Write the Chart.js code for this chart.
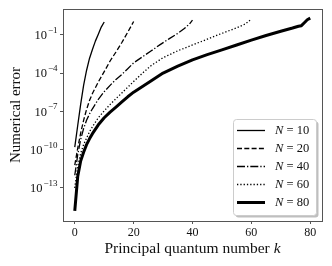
<!DOCTYPE html>
<html>
<head>
<meta charset="utf-8">
<script src="https://cdn.jsdelivr.net/npm/chart.js@4.4.1/dist/chart.umd.min.js"></script>
<style>
  html, body { margin: 0; padding: 0; background: #fff; }
  #wrap { width: 332px; height: 266px; }
</style>
</head>
<body>
<div id="wrap"><canvas id="chart" width="332" height="266"></canvas></div>
<script>
// k values and numerical error, one pair of arrays per basis size N
const kN10 = [0, 1, 2, 3, 4, 5, 6, 7, 8, 9, 10];
const errN10 = [1.6e-10, 7.9e-9, 3.5e-7, 1.1e-5, 1.6e-4, 1.4e-3, 7.1e-3, 3.2e-2, 1.1e-1, 4.0e-1, 1.0];

const kN20 = [0, 1, 2, 3, 4, 5, 6, 7, 8, 10, 12, 14, 16, 18, 19, 20];
const errN20 = [6.3e-12, 1.3e-10, 2.0e-9, 2.0e-8, 1.4e-7, 7.1e-7, 2.5e-6, 7.1e-6, 2.0e-5, 1.3e-4, 8.9e-4,
  4.5e-3, 2.5e-2, 1.6e-1, 4.2e-1, 1.1];

const kN40 = [0, 1, 2, 3, 4, 5, 6, 8, 10, 12, 14, 16, 18, 20, 23, 26, 29, 32, 35, 37, 39, 40];
const errN40 = [1.0e-12, 4.0e-11, 6.3e-10, 4.5e-9, 2.0e-8, 6.3e-8, 1.6e-7, 8.9e-7, 3.5e-6, 1.1e-5, 3.2e-5,
  7.9e-5, 2.2e-4, 6.3e-4, 1.9e-3, 5.6e-3, 1.7e-2, 4.8e-2, 1.3e-1, 2.8e-1, 7.1e-1, 1.4];

const kN60 = [0, 1, 2, 3, 4, 5, 6, 8, 10, 12, 14, 16, 18, 20, 23, 26, 30, 35, 40, 45, 50, 55, 58, 60];
const errN60 = [1.0e-13, 5.0e-12, 5.0e-11, 2.5e-10, 7.9e-10, 2.5e-9, 6.3e-9, 3.2e-8, 1.1e-7, 3.5e-7, 1.0e-6,
  2.8e-6, 7.9e-6, 2.2e-5, 1.0e-4, 4.0e-4, 1.6e-3, 5.6e-3, 1.6e-2, 4.5e-2, 1.3e-1, 3.5e-1, 7.1e-1, 1.7];

const kN80 = [0, 1, 2, 3, 4, 5, 6, 8, 10, 12, 14, 16, 18, 20, 23, 26, 30, 35, 40, 45, 50, 55, 60, 65, 70,
  74, 76, 77, 78, 79, 80];
const errN80 = [1.6e-15, 7.9e-13, 1.3e-11, 6.3e-11, 2.5e-10, 7.1e-10, 1.8e-9, 8.9e-9, 3.2e-8, 8.9e-8, 2.2e-7,
  5.6e-7, 1.4e-6, 3.2e-6, 8.9e-6, 2.5e-5, 1.0e-4, 3.5e-4, 1.1e-3, 2.8e-3, 6.6e-3, 1.6e-2, 3.8e-2, 8.9e-2,
  1.9e-1, 3.4e-1, 4.7e-1, 5.2e-1, 8.9e-1, 1.5, 2.0];

const seriesNames = ['N = 10', 'N = 20', 'N = 40', 'N = 60', 'N = 80'];
const xTicks = [0, 20, 40, 60, 80];
const yTicks = [1e-1, 1e-4, 1e-7, 1e-10, 1e-13];
const yTickExp = ['\u22121', '\u22124', '\u22127', '\u221210', '\u221213'];

const SERIF = "'Liberation Serif', 'DejaVu Serif', serif";
const AXIS = '#555';

function pts(ks, errs) {
  return ks.map((k, i) => ({ x: k, y: errs[i] }));
}

function line(label, ks, errs, width, dash) {
  return {
    label, data: pts(ks, errs),
    borderColor: '#000', borderWidth: width, borderDash: dash,
    borderCapStyle: 'butt', borderJoinStyle: 'round',
    pointRadius: 0, tension: 0, fill: false
  };
}

// frame, y tick labels, axis titles and legend box
const decor = {
  id: 'decor',
  afterDraw(chart) {
    const ctx = chart.ctx, a = chart.chartArea;
    ctx.save();
    ctx.strokeStyle = AXIS;
    ctx.lineWidth = 1;
    ctx.setLineDash([]);
    ctx.strokeRect(Math.round(a.left) + 0.5, Math.round(a.top) + 0.5,
      Math.round(a.right - a.left), Math.round(a.bottom - a.top));

    // y tick labels 10^n
    const ys = chart.scales.y;
    ctx.fillStyle = '#111';
    ctx.textBaseline = 'middle';
    ctx.textAlign = 'right';
    yTicks.forEach((v, i) => {
      const y = ys.getPixelForValue(v);
      ctx.font = '9px ' + SERIF;
      const w = ctx.measureText(yTickExp[i]).width;
      ctx.fillText(yTickExp[i], 57.5, y - 4.5);
      ctx.font = '12.5px ' + SERIF;
      ctx.fillText('10', 56.5 - w, y + 1);
    });

    // y title
    ctx.save();
    ctx.translate(16, (a.top + a.bottom) / 2);
    ctx.rotate(-Math.PI / 2);
    ctx.textAlign = 'center';
    ctx.font = '15px ' + SERIF;
    ctx.fillText('Numerical error', 0, 0);
    ctx.restore();

    // x title with italic k
    ctx.textAlign = 'left';
    ctx.font = '15.5px ' + SERIF;
    const t1 = 'Principal quantum number ';
    const w1 = ctx.measureText(t1).width;
    ctx.font = 'italic 15.5px ' + SERIF;
    const w2 = ctx.measureText('k').width;
    let x0 = (a.left + a.right) / 2 - (w1 + w2) / 2;
    ctx.font = '15.5px ' + SERIF;
    ctx.fillText(t1, x0, 249);
    ctx.font = 'italic 15.5px ' + SERIF;
    ctx.fillText('k', x0 + w1, 249);

    // legend
    const L = 233.5, T = 119.5, W = 83, H = 96, r = 3;
    ctx.fillStyle = 'rgba(0,0,0,0.25)';
    ctx.beginPath(); ctx.roundRect(L + 2, T + 2, W, H, r); ctx.fill();
    ctx.fillStyle = '#fff';
    ctx.strokeStyle = '#ccc';
    ctx.beginPath(); ctx.roundRect(L, T, W, H, r); ctx.fill(); ctx.stroke();

    chart.data.datasets.forEach((ds, i) => {
      const y = 130.5 + i * 18;
      ctx.strokeStyle = '#000';
      ctx.lineWidth = ds.borderWidth;
      ctx.lineCap = 'butt';
      ctx.setLineDash(ds.borderDash || []);
      ctx.beginPath(); ctx.moveTo(237, y); ctx.lineTo(265, y); ctx.stroke();
      ctx.setLineDash([]);
      ctx.fillStyle = '#111';
      ctx.font = 'italic 12.5px ' + SERIF;
      ctx.fillText('N', 275, y);
      const wn = ctx.measureText('N').width;
      ctx.font = '12.5px ' + SERIF;
      ctx.fillText(ds.label.slice(1), 275 + wn, y);
    });
    ctx.restore();
  }
};

new Chart(document.getElementById('chart'), {
  type: 'line',
  data: {
    datasets: [
      line(seriesNames[0], kN10, errN10, 1.3, []),
      line(seriesNames[1], kN20, errN20, 1.3, [5, 2.3]),
      line(seriesNames[2], kN40, errN40, 1.3, [8, 2, 1.3, 2]),
      line(seriesNames[3], kN60, errN60, 1.3, [1.3, 2]),
      line(seriesNames[4], kN80, errN80, 3, [])
    ]
  },
  options: {
    responsive: false,
    animation: false,
    devicePixelRatio: 1,
    layout: { padding: { left: 0, top: 9, right: 10, bottom: 0 } },
    plugins: { legend: { display: false }, tooltip: { enabled: false } },
    scales: {
      x: {
        type: 'linear', min: -4, max: 84,
        afterBuildTicks: s => { s.ticks = xTicks.map(v => ({ value: v })); },
        afterFit: s => { s.height = 45; },
        grid: { drawOnChartArea: false, drawTicks: true, tickLength: 3, color: AXIS },
        border: { color: AXIS, width: 1 },
        ticks: { color: '#111', font: { family: SERIF, size: 12 }, padding: 2, maxRotation: 0 }
      },
      y: {
        type: 'logarithmic', min: 2.6e-16, max: 10.5,
        afterBuildTicks: s => { s.ticks = yTicks.map(v => ({ value: v })); },
        afterFit: s => { s.width = 63; },
        grid: { drawOnChartArea: false, drawTicks: true, tickLength: 3, color: AXIS },
        border: { color: AXIS, width: 1 },
        ticks: { display: false }
      }
    }
  },
  plugins: [decor]
});
</script>
</body>
</html>
